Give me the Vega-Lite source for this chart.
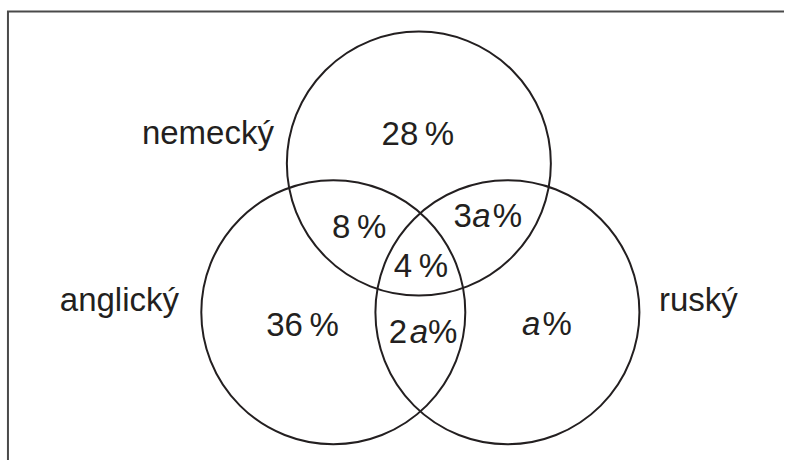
{
  "$schema": "https://vega.github.io/schema/vega-lite/v6.json",
  "autosize": {"type": "fit", "contains": "padding"},
  "width": 788,
  "height": 464,
  "padding": 0,
  "background": "white",
  "config": {"view": {"stroke": null}},
  "datasets": {
    "frame": [
      {"x": 8, "y": 464, "o": 1},
      {"x": 8, "y": 11.5, "o": 2},
      {"x": 788, "y": 11.5, "o": 3}
    ],
    "sets": [
      {"set": "nemecký", "cx": 421, "cy": 165},
      {"set": "anglický", "cx": 335, "cy": 315},
      {"set": "ruský", "cx": 510, "cy": 315}
    ],
    "labels": [
      {"t": "nemecký", "x": 209, "y": 145, "style": "normal"},
      {"t": "anglický", "x": 120, "y": 314, "style": "normal"},
      {"t": "ruský", "x": 702, "y": 314, "style": "normal"},
      {"t": "28\u2009%", "x": 420, "y": 146, "style": "normal"},
      {"t": "8\u2009%", "x": 361, "y": 240, "style": "normal"},
      {"t": "4\u2009%", "x": 423, "y": 279, "style": "normal"},
      {"t": "36\u2009%", "x": 304, "y": 339, "style": "normal"},
      {"t": "3", "x": 465, "y": 229, "style": "normal"},
      {"t": "a", "x": 484, "y": 229, "style": "italic"},
      {"t": "%", "x": 510, "y": 229, "style": "normal"},
      {"t": "2", "x": 400, "y": 346, "style": "normal"},
      {"t": "a", "x": 421, "y": 346, "style": "italic"},
      {"t": "%", "x": 445, "y": 346, "style": "normal"},
      {"t": "a", "x": 534, "y": 338, "style": "italic"},
      {"t": "%", "x": 560, "y": 338, "style": "normal"}
    ]
  },
  "layer": [
    {
      "data": {"name": "frame"},
      "mark": {"type": "line", "stroke": "#4a4a4a", "strokeWidth": 2},
      "encoding": {
        "x": {"field": "x", "type": "quantitative", "scale": {"domain": [0, 788], "nice": false, "zero": false}, "axis": null},
        "y": {"field": "y", "type": "quantitative", "scale": {"domain": [0, 464], "nice": false, "zero": false, "reverse": true}, "axis": null},
        "order": {"field": "o"}
      }
    },
    {
      "data": {"name": "sets"},
      "mark": {"type": "point", "shape": "circle", "filled": false, "stroke": "#231f20", "strokeWidth": 2, "size": 69696, "opacity": 1},
      "encoding": {
        "x": {"field": "cx", "type": "quantitative"},
        "y": {"field": "cy", "type": "quantitative"}
      }
    },
    {
      "data": {"name": "labels"},
      "transform": [{"filter": "datum.style === 'normal'"}],
      "mark": {"type": "text", "font": "Liberation Sans", "fontSize": 33, "align": "center", "baseline": "alphabetic", "color": "#231f20"},
      "encoding": {
        "x": {"field": "x", "type": "quantitative"},
        "y": {"field": "y", "type": "quantitative"},
        "text": {"field": "t"}
      }
    },
    {
      "data": {"name": "labels"},
      "transform": [{"filter": "datum.style === 'italic'"}],
      "mark": {"type": "text", "font": "Liberation Sans", "fontSize": 33, "fontStyle": "italic", "align": "center", "baseline": "alphabetic", "color": "#231f20"},
      "encoding": {
        "x": {"field": "x", "type": "quantitative"},
        "y": {"field": "y", "type": "quantitative"},
        "text": {"field": "t"}
      }
    }
  ]
}
